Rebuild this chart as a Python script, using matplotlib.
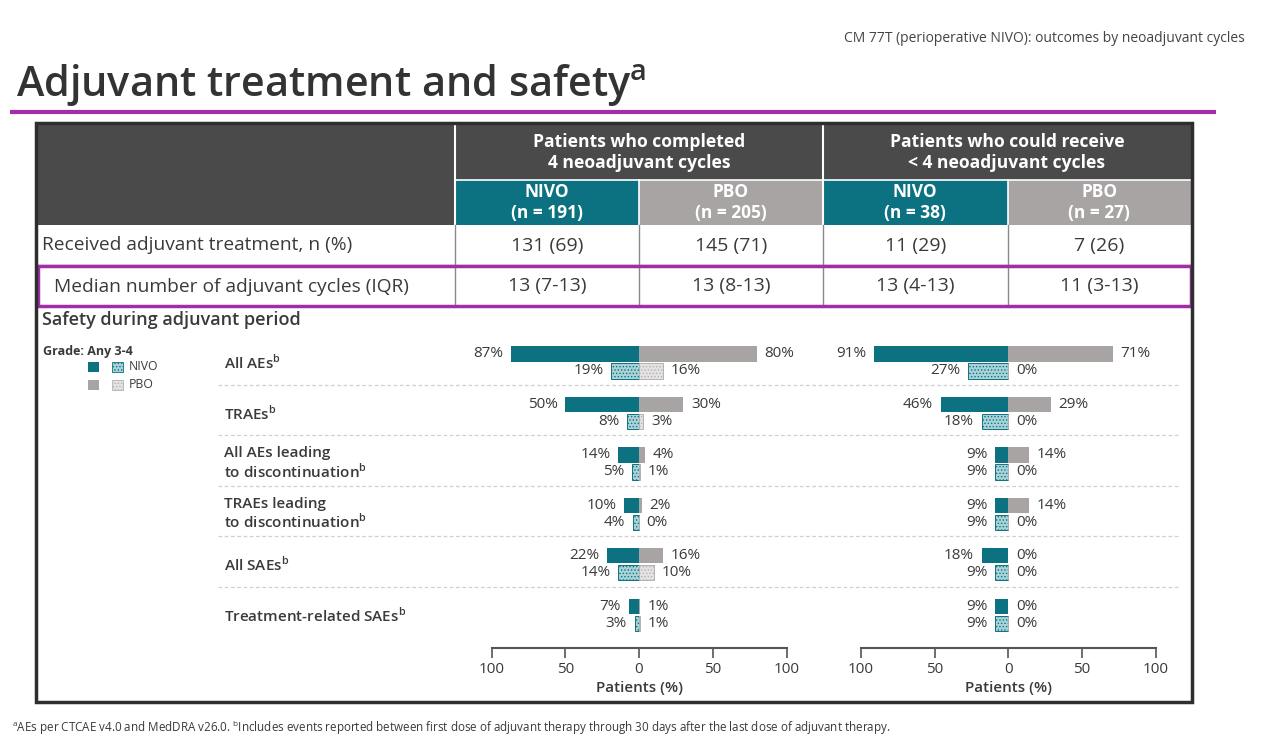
import matplotlib.pyplot as plt
import numpy as np
from matplotlib.patches import Rectangle

W, H = 1269, 754
plt.rcParams['font.family'] = ['Open Sans', 'DejaVu Sans']
plt.rcParams['hatch.linewidth'] = 0.6

TEAL = '#0c7282'
GREY = '#a8a4a4'
DARK = '#4b4a4a'
TEXT = '#3a3a3a'
PURPLE = '#a22ea6'

# ---- data ----
groups = ['Patients who completed\n4 neoadjuvant cycles',
          'Patients who could receive\n< 4 neoadjuvant cycles']
arms = ['NIVO', 'PBO', 'NIVO', 'PBO']
arm_n = [191, 205, 38, 27]
received = ['131 (69)', '145 (71)', '11 (29)', '7 (26)']
median_cycles = ['13 (7-13)', '13 (8-13)', '13 (4-13)', '11 (3-13)']

ae_labels = ['All AEs$^{\\mathregular{b}}$',
             'TRAEs$^{\\mathregular{b}}$',
             'All AEs leading\nto discontinuation$^{\\mathregular{b}}$',
             'TRAEs leading\nto discontinuation$^{\\mathregular{b}}$',
             'All SAEs$^{\\mathregular{b}}$',
             'Treatment-related SAEs$^{\\mathregular{b}}$']

# completed 4 neoadjuvant cycles
c4_nivo_any = [87, 50, 14, 10, 22, 7]
c4_nivo_g34 = [19, 8, 5, 4, 14, 3]
c4_pbo_any = [80, 30, 4, 2, 16, 1]
c4_pbo_g34 = [16, 3, 1, 0, 10, 1]
# fewer than 4 neoadjuvant cycles
lt4_nivo_any = [91, 46, 9, 9, 18, 9]
lt4_nivo_g34 = [27, 18, 9, 9, 9, 9]
lt4_pbo_any = [71, 29, 14, 14, 0, 0]
lt4_pbo_g34 = [0, 0, 0, 0, 0, 0]

fig = plt.figure(figsize=(W / 100, H / 100), dpi=100)
ax0 = fig.add_axes([0, 0, 1, 1])
ax0.set_xlim(0, W)
ax0.set_ylim(H, 0)
ax0.axis('off')

# ---- title area ----
ax0.text(1245, 38.5, 'CM 77T (perioperative NIVO): outcomes by neoadjuvant cycles',
         ha='right', va='center', fontsize=10, color='#444444')
ax0.text(16, 85, 'Adjuvant treatment and safety$^{\\mathregular{a}}$', ha='left', va='center',
         fontsize=29.8, fontweight='semibold', color='#333333')
ax0.plot([10, 1216], [112, 112], color=PURPLE, lw=3, solid_capstyle='butt')

# ---- table ----
col_x = [455, 638.5, 823, 1007.5, 1191]
ax0.add_patch(Rectangle((36, 123), 1156, 102, fc=DARK, ec='none'))
for j in range(4):
    ax0.add_patch(Rectangle((col_x[j], 180), col_x[j + 1] - col_x[j], 45,
                            fc=TEAL if arms[j] == 'NIVO' else GREY, ec='none'))
    ax0.text((col_x[j] + col_x[j + 1]) / 2, 202.5, f'{arms[j]}\n(n = {arm_n[j]})',
             ha='center', va='center', fontsize=12.5, fontweight='bold', color='white',
             linespacing=1.2)
    ax0.text((col_x[j] + col_x[j + 1]) / 2, 245.5, received[j], ha='center', va='center',
             fontsize=14, color=TEXT)
    ax0.text((col_x[j] + col_x[j + 1]) / 2, 286.5, median_cycles[j], ha='center', va='center',
             fontsize=14, color=TEXT)
for k, g in enumerate(groups):
    ax0.text((col_x[2 * k] + col_x[2 * k + 2]) / 2, 152.5, g, ha='center', va='center',
             fontsize=12.6, fontweight='bold', color='white', linespacing=1.25)

ax0.plot([455, 1191], [180, 180], color='white', lw=1.2)
for x in [455, 823]:
    ax0.plot([x, x], [123, 225], color='white', lw=1.5)
for x in [638.5, 1007.5]:
    ax0.plot([x, x], [180, 225], color='white', lw=1.2)
for x in col_x[:-1]:
    ax0.plot([x, x], [225, 306], color='#8a8a8a', lw=1)
ax0.plot([36, 1192], [265, 265], color='#8a8a8a', lw=1)

ax0.text(42, 245.5, 'Received adjuvant treatment, n (%)', ha='left', va='center',
         fontsize=13.8, color=TEXT, fontweight='medium')
ax0.text(54, 286.5, 'Median number of adjuvant cycles (IQR)', ha='left', va='center',
         fontsize=13.8, color=TEXT, fontweight='medium')
ax0.add_patch(Rectangle((37.5, 265.5), 1153, 40, fill=False, ec=PURPLE, lw=2.5, zorder=5))
ax0.add_patch(Rectangle((36, 123), 1156, 579, fill=False, ec='#2e2e2e', lw=2.5, zorder=6))

# ---- safety section ----
ax0.text(42, 320, 'Safety during adjuvant period', ha='left', va='center',
         fontsize=13, fontweight='semibold', color=TEXT)
ax0.text(43, 352, 'Grade: Any 3-4', ha='left', va='center', fontsize=9,
         fontweight='bold', color=TEXT)
ax0.add_patch(Rectangle((88, 362), 10.5, 10, fc=TEAL, ec='none'))
ax0.add_patch(Rectangle((112, 362), 10.5, 10, fc='#a9d3d7', ec=TEAL, hatch='.....', lw=0.6))
ax0.add_patch(Rectangle((88, 380), 10.5, 10, fc=GREY, ec='none'))
ax0.add_patch(Rectangle((112, 380), 10.5, 10, fc='#e4e2e2', ec='#b5b1b1', hatch='.....', lw=0.6))
ax0.text(129, 367, 'NIVO', ha='left', va='center', fontsize=8.8, color=TEXT)
ax0.text(129, 385, 'PBO', ha='left', va='center', fontsize=8.8, color=TEXT)

for i, lab in enumerate(ae_labels):
    ax0.text(224, 362.5 + 50.5 * i, lab, ha='left', va='center', fontsize=11,
             fontweight='semibold', color=TEXT, linespacing=1.1)
for i in range(5):
    y = 384.5 + 50.5 * i
    ax0.plot([218, 1180], [y, y], color='#d0d0d0', lw=0.9, ls=(0, (3, 2)))

ax0.text(12, 728, '$^{\\mathregular{a}}$AEs per CTCAE v4.0 and MedDRA v26.0. '
         '$^{\\mathregular{b}}$Includes events reported between first dose of adjuvant therapy '
         'through 30 days after the last dose of adjuvant therapy.',
         ha='left', va='center', fontsize=8.4, color=TEXT)


def draw_panel(left_px, right_px, nivo_any, nivo_g34, pbo_any, pbo_g34):
    top_px, bot_px = 336.3, 648.3
    ax = fig.add_axes([left_px / W, 1 - bot_px / H, (right_px - left_px) / W,
                       (bot_px - top_px) / H])
    ax.set_facecolor('none')
    rows = np.arange(len(nivo_any))
    y_any = rows + 0.35
    y_g34 = rows + 0.687
    ax.barh(y_any, -np.array(nivo_any), height=0.3, color=TEAL)
    ax.barh(y_any, pbo_any, height=0.3, color=GREY)
    ax.barh(y_g34, -np.array(nivo_g34), height=0.3, facecolor='#a9d3d7',
            edgecolor=TEAL, hatch='.....', linewidth=0.7)
    ax.barh(y_g34, pbo_g34, height=0.3, facecolor='#e4e2e2',
            edgecolor='#b5b1b1', hatch='.....', linewidth=0.7)
    for yy, vals, sign in [(y_any, nivo_any, -1), (y_g34, nivo_g34, -1),
                           (y_any, pbo_any, 1), (y_g34, pbo_g34, 1)]:
        for y, v in zip(yy, vals):
            ax.annotate(f'{v}%', xy=(sign * v, y), xytext=(sign * 5.5, 0),
                        textcoords='offset points', ha='right' if sign < 0 else 'left',
                        va='center', fontsize=11, color=TEXT)
    ax.set_xlim(-100, 100)
    ax.set_ylim(6.18, 0)
    ticks = [-100, -50, 0, 50, 100]
    ax.set_xticks(ticks)
    ax.set_xticklabels([str(abs(t)) for t in ticks], fontsize=11, color=TEXT)
    ax.tick_params(axis='x', direction='out', length=7, width=1.2, color='#555555', pad=3)
    ax.tick_params(axis='y', left=False, labelleft=False)
    for s in ['top', 'left', 'right']:
        ax.spines[s].set_visible(False)
    ax.spines['bottom'].set_color('#555555')
    ax.spines['bottom'].set_linewidth(1.5)
    ax.set_xlabel('Patients (%)', fontsize=11, fontweight='semibold', color=TEXT, labelpad=3)
    return ax


draw_panel(491.5, 786.5, c4_nivo_any, c4_nivo_g34, c4_pbo_any, c4_pbo_g34)
draw_panel(861, 1155.5, lt4_nivo_any, lt4_nivo_g34, lt4_pbo_any, lt4_pbo_g34)

fig.savefig('out.png', dpi=100)
